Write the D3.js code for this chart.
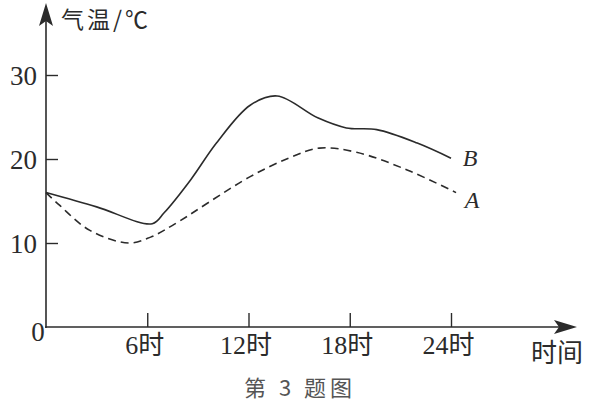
<!DOCTYPE html>
<html>
<head>
<meta charset="utf-8">
<script src="https://cdn.jsdelivr.net/npm/d3@7"></script>
<style>
  body { margin: 0; background: #fff; }
  svg { display: block; }
</style>
</head>
<body>
<div id="chart"></div>
<script>
// hours and temperatures
var hoursB = [0, 3, 6.3, 7.0, 8.6, 10.1, 12.1, 13.7, 16.1, 17.8, 19.6, 22, 24];
var tempB  = [16, 14.3, 12.3, 13.6, 17.6, 21.9, 26.4, 27.5, 24.9, 23.7, 23.5, 21.9, 20.1];
var hoursA = [0, 0.8, 2.6, 4.9, 6.2, 7.5, 12.1, 14.5, 16.2, 18.4, 21.4, 24.3];
var tempA  = [16, 14.5, 11.5, 10, 10.7, 12.1, 17.9, 20.2, 21.3, 20.8, 18.7, 16];
var yTicks = [10, 20, 30];
var xTicks = [6, 12, 18, 24];

var ink = "#2b2b2b";
var serif = "'Liberation Serif', 'Noto Sans CJK SC', serif";
var cjk = "'Noto Sans CJK SC', sans-serif";

var svg = d3.select("#chart").append("svg")
    .attr("width", 593)
    .attr("height", 406)
    .style("background-color", "white")

var x = d3.scaleLinear().domain([0, 24]).range([46, 451])
var y = d3.scaleLinear().domain([0, 30]).range([327, 75])

// y axis
var yAxis = d3.axisLeft(y).tickValues(yTicks).tickSizeInner(-12).tickSizeOuter(0).tickPadding(9)
var yg = svg.append("g").attr("transform", "translate(" + x(0) + ",0)").call(yAxis)
yg.select(".domain").remove()
yg.selectAll(".tick line").attr("stroke", ink).attr("stroke-width", 1.4)
yg.selectAll(".tick text").attr("fill", ink).style("font-family", serif).style("font-size", "27px").attr("dy", "0.34em")

// x axis
var xAxis = d3.axisBottom(x).tickValues(xTicks).tickSizeInner(-14).tickSizeOuter(0).tickPadding(9)
    .tickFormat(function(d) { return d + "时"; })
var xg = svg.append("g").attr("transform", "translate(0," + y(0) + ")").call(xAxis)
xg.select(".domain").remove()
xg.selectAll(".tick line").attr("stroke", ink).attr("stroke-width", 1.4)
xg.selectAll(".tick text").attr("fill", ink).style("font-family", serif).style("font-size", "26px")
    .attr("dx", "-3")

// axis lines with arrows
svg.append("line").attr("x1", x(0)).attr("y1", y(0) + 1).attr("x2", x(0)).attr("y2", 18)
    .attr("stroke", ink).attr("stroke-width", 1.6)
svg.append("line").attr("x1", x(0) - 1).attr("y1", y(0)).attr("x2", 562).attr("y2", y(0))
    .attr("stroke", ink).attr("stroke-width", 1.6)
svg.append("path").attr("d", "M46,3 L53,26 L46,21 L39,26 Z").attr("fill", ink)
svg.append("path").attr("d", "M577,327 L554,320 L559,327 L554,334 Z").attr("fill", ink)

// origin label
svg.append("text").attr("x", 38).attr("y", 341).attr("text-anchor", "middle")
    .attr("fill", ink).style("font-family", serif).style("font-size", "27px").text("0")

// axis titles
svg.append("text").attr("x", 61).attr("y", 28).attr("fill", ink)
    .style("font-family", cjk).style("font-size", "23px").style("letter-spacing", "3px").text("气温/℃")
svg.append("text").attr("x", 557).attr("y", 362).attr("text-anchor", "middle").attr("fill", ink)
    .style("font-family", cjk).style("font-size", "26px").text("时间")
svg.append("text").attr("x", 300).attr("y", 396).attr("text-anchor", "middle").attr("fill", "#555")
    .style("font-family", cjk).style("font-size", "22px").style("letter-spacing", "4px").text("第 3 题图")

// curves
var line = d3.line()
    .x(function(d) { return x(d[0]); })
    .y(function(d) { return y(d[1]); })
    .curve(d3.curveCatmullRom.alpha(0.5))

var dataB = hoursB.map(function(h, i) { return [h, tempB[i]]; })
var dataA = hoursA.map(function(h, i) { return [h, tempA[i]]; })

svg.append("path").datum(dataB).attr("d", line)
    .attr("fill", "none").attr("stroke", ink).attr("stroke-width", 1.6)
svg.append("path").datum(dataA).attr("d", line)
    .attr("fill", "none").attr("stroke", ink).attr("stroke-width", 1.6)
    .attr("stroke-dasharray", "8,5")

// series labels
svg.append("text").attr("x", x(24) + 19).attr("y", y(tempB[tempB.length - 1]) + 8).attr("text-anchor", "middle")
    .attr("fill", ink).style("font-family", serif).style("font-style", "italic").style("font-size", "24px").text("B")
svg.append("text").attr("x", x(24) + 21).attr("y", y(tempA[tempA.length - 1]) + 15).attr("text-anchor", "middle")
    .attr("fill", ink).style("font-family", serif).style("font-style", "italic").style("font-size", "24px").text("A")
</script>
</body>
</html>
